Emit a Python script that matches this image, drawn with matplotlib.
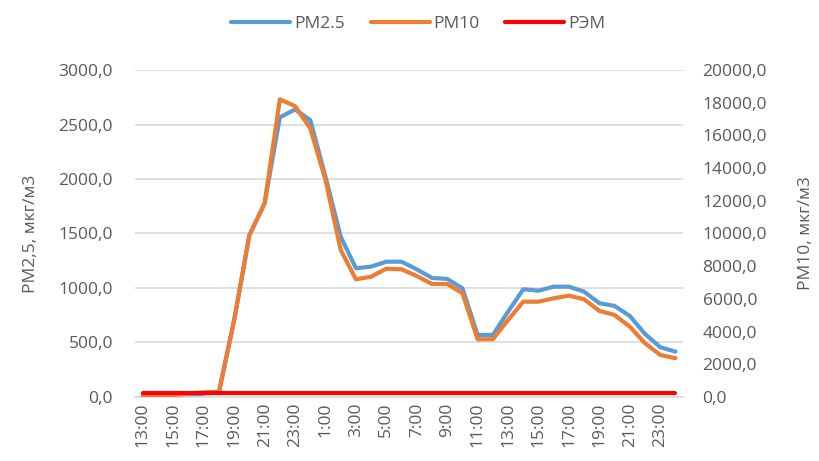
import matplotlib
matplotlib.use("Agg")
import matplotlib.pyplot as plt
from matplotlib.ticker import FuncFormatter

plt.rcParams['font.family'] = ['Open Sans', 'DejaVu Sans']

hours = list(range(13, 24)) + list(range(0, 24)) + [0]
labels = ['{}:00'.format(h) for h in hours]

pm25 = [12, 13, 15, 20, 30, 45, 706, 1486, 1777, 2566, 2639, 2541,
        2021, 1471, 1181, 1196, 1241, 1241, 1171, 1092, 1083, 997,
        569, 569, 783, 988, 975, 1012, 1012, 966, 860, 835, 743,
        578, 456, 416]
pm10 = [80, 90, 120, 200, 280, 320, 4710, 9908, 11847, 18208, 17797, 16433,
        13272, 8991, 7198, 7358, 7847, 7808, 7400, 6911, 6911, 6342,
        3529, 3529, 4709, 5829, 5829, 6033, 6196, 5975, 5260, 5015, 4300,
        3284, 2569, 2367]
rem = [245] * len(hours)

gray = '#595959'
grid = '#d9d9d9'

fig = plt.figure(figsize=(8.2, 4.61), dpi=100)
ax = fig.add_axes([0.165, 0.139, 0.668, 0.709])
ax2 = ax.twinx()

x = list(range(len(hours)))
l1, = ax.plot(x, pm25, color='#5B9BD5', lw=3, solid_capstyle='round', label='PM2.5')
l2, = ax2.plot(x, pm10, color='#ED7D31', lw=3, solid_capstyle='round', label='PM10')
l3, = ax2.plot(x, rem, color='#FF0000', lw=3, solid_capstyle='round', label='РЭМ')

ax.set_xlim(-0.5, len(hours) - 0.5)
ax.set_ylim(0, 3000)
ax2.set_ylim(0, 20000)
ax.set_yticks(range(0, 3001, 500))
ax2.set_yticks(range(0, 20001, 2000))

fmt = FuncFormatter(lambda v, p: '{:.1f}'.format(v).replace('.', ','))
ax.yaxis.set_major_formatter(fmt)
ax2.yaxis.set_major_formatter(fmt)

ax.set_xticks(x[::2])
ax.set_xticklabels(labels[::2], rotation=90)

ax.grid(axis='y', color=grid, lw=1.2)
ax.set_axisbelow(True)
for a in (ax, ax2):
    for s in a.spines.values():
        s.set_visible(False)
    a.tick_params(length=0, labelsize=12.5, colors=gray)
ax.tick_params(axis='y', pad=16)
ax2.tick_params(axis='y', pad=14)
ax.spines['bottom'].set_visible(True)
ax.spines['bottom'].set_color(grid)
ax.spines['bottom'].set_linewidth(1.2)
ax.tick_params(axis='x', pad=4)

ax.set_ylabel('PM2,5, мкг/м3', fontsize=12.5, color=gray, labelpad=14)
ax2.set_ylabel('PM10, мкг/м3', fontsize=12.5, color=gray, labelpad=22)

fig.legend(handles=[l1, l2, l3], loc='upper center', bbox_to_anchor=(0.51, 1.0),
           ncol=3, frameon=False, fontsize=12.5, handlelength=3.4,
           columnspacing=1.5, handletextpad=0.2, labelcolor=gray)

fig.savefig('out.png', dpi=100)
